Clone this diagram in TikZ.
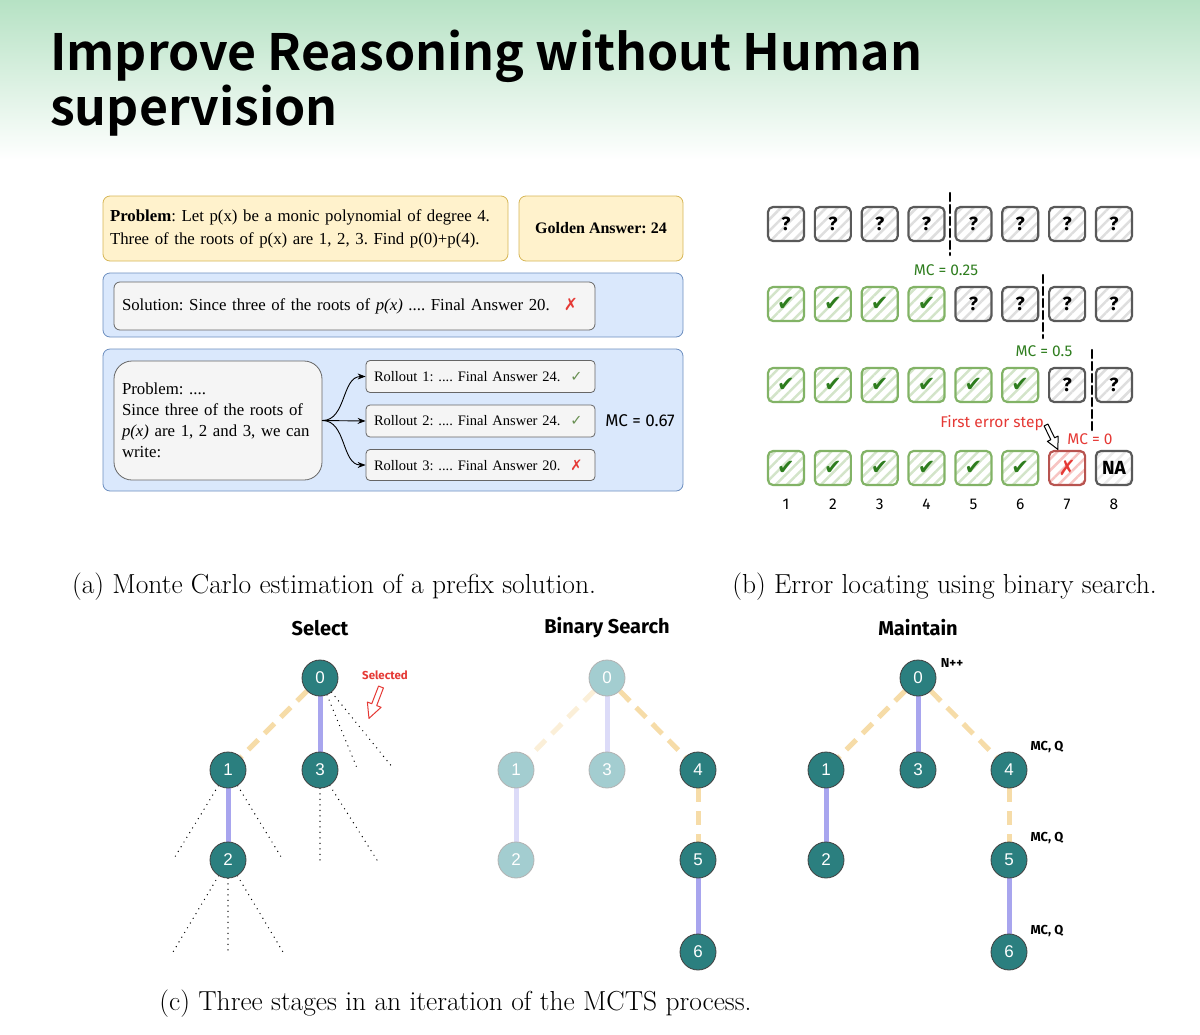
\documentclass[tikz,border=0pt]{standalone}
\usepackage{fontspec}
\usetikzlibrary{arrows.meta,positioning,patterns.meta,backgrounds}
\newfontfamily\titlefont{Noto Sans CJK SC Bold}
\newfontfamily\serifface{Liberation Serif}
\newfontfamily\handfont{Fira Sans}
\newfontfamily\nodeface{Liberation Sans}
\newfontfamily\symface{DejaVu Sans}
\frenchspacing
\definecolor{headgreen}{HTML}{B6E2C4}
\definecolor{yellowfill}{HTML}{FFF2CC}
\definecolor{yellowline}{HTML}{D6B656}
\definecolor{bluefill}{HTML}{DAE8FC}
\definecolor{blueline}{HTML}{6C8EBF}
\definecolor{grayfill}{HTML}{F5F5F5}
\definecolor{grayline}{HTML}{666666}
\definecolor{okgreen}{HTML}{82B366}
\definecolor{darkgreen}{HTML}{2E7D1E}
\definecolor{errred}{HTML}{E53935}
\definecolor{errline}{HTML}{B85450}
\definecolor{nodeteal}{HTML}{2B7F7F}
\definecolor{fadeteal}{HTML}{A3CDD0}
\definecolor{planorange}{HTML}{F6DCA8}
\definecolor{pathviolet}{HTML}{A8A5EE}
\newcommand\markq{?}
\newcommand\markk{✔}
\newcommand\markx{✗}
\newcommand\markn{NA}
\tikzset{
  fatarrow/.pic={\draw[pic actions] (-2.5,0) -- (-2.5,18) -- (-7,18) -- (0,32) -- (7,18) -- (2.5,18) -- (2.5,0) -- cycle;},
  ybox/.style={draw=yellowline, fill=yellowfill, rounded corners=7, line width=0.8},
  bbox/.style={draw=blueline, fill=bluefill, rounded corners=7, line width=0.8},
  gbox/.style={draw=grayline, fill=grayfill, rounded corners=6, line width=0.8},
  cell/.style={rectangle, rounded corners=5, minimum width=36, minimum height=34, line width=2.2,
    pattern={Lines[angle=45,distance=8pt,line width=2.5pt]}},
  cell q/.style={cell, draw=black!65, pattern color=black!13, font=\handfont\bfseries\fontsize{19}{19}\selectfont},
  cell k/.style={cell, draw=okgreen, pattern color=okgreen!35, text=darkgreen, font=\symface\fontsize{21}{21}\selectfont},
  cell x/.style={cell, draw=errline, pattern color=errred!30, text=errred, font=\symface\fontsize{21}{21}\selectfont},
  cell n/.style={cell, draw=black!65, pattern color=black!8, font=\handfont\bfseries\fontsize{19}{19}\selectfont},
  hand/.style={font=\handfont\fontsize{15.5}{15.5}\selectfont},
  caption/.style={font=\fontsize{27.5}{30}\selectfont},
  tnode/.style={circle, fill=nodeteal, draw=black!75, line width=0.8, minimum size=36, inner sep=0,
    text=white, font=\nodeface\fontsize{17}{17}\selectfont},
  fnode/.style={tnode, fill=fadeteal, draw=gray!60},
  stage/.style={font=\handfont\bfseries\fontsize{20}{20}\selectfont},
  planlink/.style={draw=planorange, line width=5, dash pattern=on 14pt off 9pt},
  pathlink/.style={draw=pathviolet, line width=5},
  fadeplan/.style={planlink, draw=planorange!45},
  fadepath/.style={pathlink, draw=pathviolet!40},
  dotlink/.style={line width=1.4, dash pattern=on 0pt off 5.5pt, line cap=round},
  cutline/.style={line width=2.5, dash pattern=on 8pt off 4pt},
  tag/.style={font=\handfont\bfseries\fontsize{13}{13}\selectfont}
}
\begin{document}
\begin{tikzpicture}[x=1pt,y=-1pt,line cap=round,line join=round]
\useasboundingbox (0,0) rectangle (1200,1034);
\shade[top color=headgreen, bottom color=white] (0,0) rectangle (1200,160);
\node[anchor=base west, inner xsep=0, font=\titlefont\fontsize{50}{55}\selectfont] (title) at (50,70) {Improve Reasoning without Human};
\node[anchor=base west, inner xsep=0, font=\titlefont\fontsize{50}{55}\selectfont] (titletwo) at (50,125) {supervision};

% (a) Monte Carlo estimation
\begin{scope}[font=\serifface]
\node[ybox, minimum width=405, minimum height=65, text width=391, align=left, inner xsep=7,
  font=\serifface\fontsize{16.8}{23}\selectfont] (problem) at (305.5,228.5)
  {\textbf{Problem}: Let p(x) be a monic polynomial of degree 4.\\Three of the roots of p(x) are 1, 2, 3. Find p(0)+p(4).};
\node[ybox, minimum width=164, minimum height=65, font=\serifface\bfseries\fontsize{16}{20}\selectfont] (golden) at (601,228.5) {Golden Answer: 24};
\node[bbox, minimum width=580, minimum height=64] (solpanel) at (393,305) {};
\node[gbox, minimum width=481, minimum height=48, text width=465, align=left, inner xsep=8,
  font=\serifface\fontsize{16.8}{20}\selectfont] (solution) at (354.5,306)
  {Solution: Since three of the roots of \textit{p(x)} .... Final Answer 20.\hspace{14pt}{\symface\color{errred}✗}};
\node[bbox, minimum width=580, minimum height=142] (rollpanel) at (393,420) {};
\node[gbox, rounded corners=18, minimum width=208, minimum height=119, text width=192, align=left, inner xsep=8,
  font=\serifface\fontsize{16.8}{21}\selectfont] (prefix) at (218,420.5)
  {Problem: ....\\Since three of the roots of\\\textit{p(x)} are 1, 2 and 3, we can\\write:};
\node[gbox, rounded corners=4, minimum width=229, minimum height=32, text width=213, align=left, inner xsep=8,
  font=\serifface\fontsize{14.5}{18}\selectfont] (rollone) at (480.5,376.5)
  {Rollout 1: .... Final Answer 24.\hspace{10pt}{\symface\color{okgreen!80!black}✓}};
\node[gbox, rounded corners=4, minimum width=229, minimum height=32, text width=213, align=left, inner xsep=8,
  font=\serifface\fontsize{14.5}{18}\selectfont] (rolltwo) at (480.5,421)
  {Rollout 2: .... Final Answer 24.\hspace{10pt}{\symface\color{okgreen!80!black}✓}};
\node[gbox, rounded corners=4, minimum width=229, minimum height=31, text width=213, align=left, inner xsep=8,
  font=\serifface\fontsize{14.5}{18}\selectfont] (rollthree) at (480.5,465)
  {Rollout 3: .... Final Answer 20.\hspace{10pt}{\symface\color{errred}✗}};
\node[font=\handfont\fontsize{17}{17}\selectfont] (mcroll) at (640,421) {MC = 0.67};
\draw[-{Stealth[length=8pt]}, line width=0.9] (prefix.east) to[out=0,in=180] (rollone.west);
\draw[-{Stealth[length=8pt]}, line width=0.9] (prefix.east) -- (rolltwo.west);
\draw[-{Stealth[length=8pt]}, line width=0.9] (prefix.east) to[out=0,in=180] (rollthree.west);
\end{scope}
\node[caption] (capa) at (334,587) {(a) Monte Carlo estimation of a prefix solution.};

% (b) binary search over steps
\foreach \row/\yy/\states in {1/224/{q,q,q,q,q,q,q,q},2/304/{k,k,k,k,q,q,q,q},3/385/{k,k,k,k,k,k,q,q},4/468/{k,k,k,k,k,k,x,n}}{
  \foreach \s [count=\col] in \states
    \node[cell \s] (st\row\col) at ({786+(\col-1)*46.85},\yy) {\csname mark\s\endcsname};
}
\foreach \col in {1,...,8}
  \node[hand] (num\col) at ({786+(\col-1)*46.85},504) {\col};
\draw[cutline] (950,193) -- (950,255);
\draw[cutline] (1043,275) -- (1043,338);
\draw[cutline] (1092,350) -- (1092,430);
\node[hand, text=darkgreen] (mcone) at (946,270) {MC = 0.25};
\node[hand, text=darkgreen] (mctwo) at (1044,351) {MC = 0.5};
\node[hand, text=errred] (mcthree) at (1090,439) {MC = 0};
\node[hand, text=errred] (firsterr) at (992,423) {First error step};
\pic[draw=black, fill=white, line width=1, rotate=26, scale=0.85] at (1046,425) {fatarrow};
\node[caption] (capb) at (944.5,587) {(b) Error locating using binary search.};

% (c) MCTS stages
\node[stage] (selhead) at (320,628) {Select};
\node[tnode] (sel0) at (320,678) {0};
\node[tnode] (sel1) at (228,770) {1};
\node[tnode] (sel3) at (320,770) {3};
\node[tnode] (sel2) at (228,860) {2};
\coordinate (sd1) at (357,768);
\coordinate (sd2) at (393,768);
\coordinate (sd3) at (173,860);
\coordinate (sd4) at (283,860);
\coordinate (sd5) at (320,860);
\coordinate (sd6) at (377,860);
\coordinate (sd7) at (173,952);
\coordinate (sd8) at (228,952);
\coordinate (sd9) at (283,952);
\node[tag, text=errred, font=\handfont\bfseries\fontsize{11.5}{11.5}\selectfont] (seltag) at (385,675) {Selected};
\pic[draw=errred, fill=white, line width=1, rotate=-21, scale=1.05] at (381,687) {fatarrow};

\node[stage] (binhead) at (607,628) {Binary Search};
\node[fnode] (bin0) at (607,678) {0};
\node[fnode] (bin1) at (516,770) {1};
\node[fnode] (bin3) at (607,770) {3};
\node[tnode] (bin4) at (698,770) {4};
\node[fnode] (bin2) at (516,860) {2};
\node[tnode] (bin5) at (698,860) {5};
\node[tnode] (bin6) at (698,952) {6};

\node[stage] (mnthead) at (918,628) {Maintain};
\node[tnode] (mnt0) at (918,678) {0};
\node[tnode] (mnt1) at (826,770) {1};
\node[tnode] (mnt3) at (918,770) {3};
\node[tnode] (mnt4) at (1009,770) {4};
\node[tnode] (mnt2) at (826,860) {2};
\node[tnode] (mnt5) at (1009,860) {5};
\node[tnode] (mnt6) at (1009,952) {6};
\node[tag] (ntag) at (952,663) {N++};
\node[tag] (qtag4) at (1047,747) {MC, Q};
\node[tag] (qtag5) at (1047,838) {MC, Q};
\node[tag] (qtag6) at (1047,931) {MC, Q};

\begin{scope}[on background layer]
\draw[planlink] (sel0) -- (sel1);
\draw[pathlink] (sel0) -- (sel3);
\draw[pathlink] (sel1) -- (sel2);
\foreach \a/\b in {sel0/sd1,sel0/sd2,sel1/sd3,sel1/sd4,sel3/sd5,sel3/sd6,sel2/sd7,sel2/sd8,sel2/sd9}
  \draw[dotlink] (\a) -- (\b);
\draw[fadeplan] (bin0) -- (bin1);
\draw[fadepath] (bin0) -- (bin3);
\draw[planlink] (bin0) -- (bin4);
\draw[fadepath] (bin1) -- (bin2);
\draw[planlink] (bin4) -- (bin5);
\draw[pathlink] (bin5) -- (bin6);
\draw[planlink] (mnt0) -- (mnt1);
\draw[pathlink] (mnt0) -- (mnt3);
\draw[planlink] (mnt0) -- (mnt4);
\draw[pathlink] (mnt1) -- (mnt2);
\draw[planlink] (mnt4) -- (mnt5);
\draw[pathlink] (mnt5) -- (mnt6);
\end{scope}
\node[caption] (capc) at (455.5,1004) {(c) Three stages in an iteration of the MCTS process.};
\end{tikzpicture}
\end{document}
